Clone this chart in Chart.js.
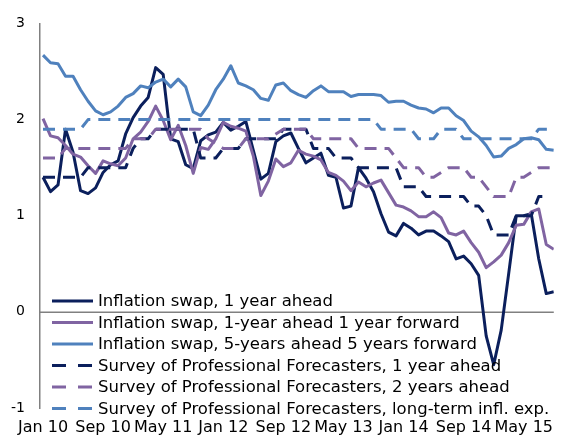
<!DOCTYPE html>
<html>
<head>
	<style type="text/css">
	html, body { margin: 0; padding: 0; background: #fff; }
	#wrap { width: 563px; height: 438px; }
	</style>
	<title>Inflation expectations</title>
	<script type="text/javascript" src="https://cdn.jsdelivr.net/npm/chart.js@4/dist/chart.umd.min.js"></script>
</head>
<body>
<div id="wrap"><canvas id="chart" width="563" height="438"></canvas></div>
<script type="text/javascript">
	// months Jan 2010 .. Sep 2015
	var categories = [
		'Jan 10','Feb 10','Mar 10','Apr 10','May 10','Jun 10','Jul 10','Aug 10','Sep 10','Oct 10','Nov 10','Dec 10',
		'Jan 11','Feb 11','Mar 11','Apr 11','May 11','Jun 11','Jul 11','Aug 11','Sep 11','Oct 11','Nov 11','Dec 11',
		'Jan 12','Feb 12','Mar 12','Apr 12','May 12','Jun 12','Jul 12','Aug 12','Sep 12','Oct 12','Nov 12','Dec 12',
		'Jan 13','Feb 13','Mar 13','Apr 13','May 13','Jun 13','Jul 13','Aug 13','Sep 13','Oct 13','Nov 13','Dec 13',
		'Jan 14','Feb 14','Mar 14','Apr 14','May 14','Jun 14','Jul 14','Aug 14','Sep 14','Oct 14','Nov 14','Dec 14',
		'Jan 15','Feb 15','Mar 15','Apr 15','May 15','Jun 15','Jul 15','Aug 15','Sep 15'
	];
	var tickEvery = 8;

	var seriesNames = [
		'Inflation swap, 1 year ahead',
		'Inflation swap, 1-year ahead 1 year forward',
		'Inflation swap, 5-years ahead 5 years forward',
		'Survey of Professional Forecasters, 1 year ahead',
		'Survey of Professional Forecasters, 2 years ahead',
		'Survey of Professional Forecasters, long-term infl. exp.'
	];

	var swap1y = [
		1.40, 1.25, 1.32, 1.90, 1.66, 1.26, 1.23, 1.29, 1.45, 1.53, 1.57, 1.85,
		2.02, 2.14, 2.23, 2.54, 2.47, 1.80, 1.77, 1.53, 1.49, 1.78, 1.84, 1.87,
		1.97, 1.89, 1.93, 1.98, 1.68, 1.38, 1.44, 1.77, 1.83, 1.86, 1.70, 1.55,
		1.60, 1.65, 1.42, 1.40, 1.08, 1.10, 1.50, 1.39, 1.25, 1.02, 0.83, 0.79,
		0.92, 0.87, 0.80, 0.84, 0.84, 0.79, 0.73, 0.55, 0.58, 0.50, 0.38, -0.25,
		-0.55, -0.19, 0.40, 1.00, 1.00, 1.02, 0.55, 0.19, 0.21
	];
	var swap1y1y = [
		2.01, 1.83, 1.81, 1.73, 1.64, 1.61, 1.52, 1.44, 1.57, 1.54, 1.52, 1.60,
		1.80, 1.87, 1.98, 2.14, 1.99, 1.79, 1.94, 1.73, 1.44, 1.71, 1.69, 1.80,
		1.97, 1.93, 1.91, 1.88, 1.62, 1.21, 1.36, 1.59, 1.51, 1.55, 1.68, 1.64,
		1.62, 1.58, 1.45, 1.42, 1.36, 1.26, 1.35, 1.30, 1.34, 1.37, 1.24, 1.11,
		1.09, 1.05, 0.99, 0.99, 1.04, 0.98, 0.82, 0.80, 0.84, 0.72, 0.62, 0.46,
		0.52, 0.59, 0.72, 0.90, 0.91, 1.04, 1.07, 0.70, 0.65
	];
	var swap5y5y = [
		2.67, 2.59, 2.58, 2.45, 2.45, 2.31, 2.19, 2.09, 2.05, 2.08, 2.14, 2.23,
		2.27, 2.35, 2.33, 2.39, 2.42, 2.34, 2.42, 2.34, 2.08, 2.04, 2.15, 2.31,
		2.42, 2.56, 2.38, 2.35, 2.31, 2.22, 2.20, 2.36, 2.38, 2.30, 2.26, 2.23,
		2.30, 2.35, 2.29, 2.29, 2.29, 2.24, 2.26, 2.26, 2.26, 2.25, 2.18, 2.19,
		2.19, 2.15, 2.12, 2.11, 2.07, 2.12, 2.12, 2.04, 1.99, 1.88, 1.82, 1.73,
		1.61, 1.62, 1.70, 1.74, 1.80, 1.81, 1.79, 1.69, 1.68
	];
	var spf1y = [
		1.4, 1.4, 1.4, 1.4, 1.4, 1.4, 1.5, 1.5, 1.5, 1.5, 1.5, 1.5,
		1.7, 1.8, 1.8, 1.9, 1.9, 1.9, 1.9, 1.9, 1.9, 1.6, 1.6, 1.6,
		1.7, 1.7, 1.7, 1.8, 1.8, 1.8, 1.8, 1.8, 1.9, 1.9, 1.9, 1.9,
		1.7, 1.7, 1.7, 1.6, 1.6, 1.6, 1.5, 1.5, 1.5, 1.5, 1.5, 1.5,
		1.3, 1.3, 1.3, 1.2, 1.2, 1.2, 1.2, 1.2, 1.2, 1.1, 1.1, 1.0,
		0.8, 0.8, 0.8, 1.0, 1.0, 1.0, 1.2, 1.2, null
	];
	var spf2y = [
		1.6, 1.6, 1.6, 1.7, 1.7, 1.7, 1.7, 1.7, 1.7, 1.7, 1.7, 1.7,
		1.8, 1.8, 1.8, 1.9, 1.9, 1.9, 1.9, 1.9, 1.9, 1.9, 1.8, 1.75,
		1.7, 1.7, 1.7, 1.8, 1.8, 1.8, 1.8, 1.85, 1.9, 1.9, 1.9, 1.9,
		1.8, 1.8, 1.8, 1.8, 1.8, 1.8, 1.7, 1.7, 1.7, 1.7, 1.7, 1.6,
		1.5, 1.5, 1.5, 1.4, 1.4, 1.45, 1.5, 1.5, 1.5, 1.4, 1.4, 1.3,
		1.2, 1.2, 1.2, 1.4, 1.4, 1.45, 1.5, 1.5, 1.5
	];
	var spfLongTerm = [
		1.9, 1.9, 1.9, 1.9, 1.9, 1.9, 2.0, 2.0, 2.0, 2.0, 2.0, 2.0,
		2.0, 2.0, 2.0, 2.0, 2.0, 2.0, 2.0, 2.0, 2.0, 2.0, 2.0, 2.0,
		2.0, 2.0, 2.0, 2.0, 2.0, 2.0, 2.0, 2.0, 2.0, 2.0, 2.0, 2.0,
		2.0, 2.0, 2.0, 2.0, 2.0, 2.0, 2.0, 2.0, 2.0, 1.9, 1.9, 1.9,
		1.9, 1.9, 1.8, 1.8, 1.8, 1.9, 1.9, 1.9, 1.8, 1.8, 1.8, 1.8,
		1.8, 1.8, 1.8, 1.8, 1.8, 1.8, 1.9, 1.9, 1.9
	];

	var yTicks = [-1, 0, 1, 2, 3];

	var navy = '#0b1f5c';
	var purple = '#8064a2';
	var blue = '#4f81bd';
	var axisGrey = '#808080';
	var dash = [12, 8];
	var font = '"DejaVu Sans", Verdana, sans-serif';

	function line(label, data, color, dashed, idx) {
		return {
			label: label,
			data: data,
			borderColor: color,
			backgroundColor: color,
			borderWidth: 3,
			borderDash: dashed ? dash : [],
			borderCapStyle: 'butt',
			borderJoinStyle: 'round',
			pointRadius: 0,
			tension: 0,
			fill: false,
			order: 5 - idx
		};
	}

	// zero line under the data, legend inside the plot over it (bottom left)
	var insideLegend = {
		id: 'insideLegend',
		beforeDatasetsDraw: function (chart) {
			var ctx = chart.ctx;
			var a = chart.chartArea;
			var y0 = chart.scales.y.getPixelForValue(0);
			ctx.save();
			ctx.fillStyle = axisGrey;
			ctx.fillRect(a.left, Math.round(y0) - 0.5, a.right - a.left, 1.5);
			ctx.restore();
		},
		afterDatasetsDraw: function (chart) {
			var ctx = chart.ctx;
			var x0 = chart.chartArea.left + 12;
			ctx.save();
			ctx.font = '16.5px ' + font;
			ctx.textBaseline = 'middle';
			ctx.textAlign = 'left';
			chart.data.datasets.forEach(function (ds, i) {
				var y = 301 + i * 21.5;
				ctx.strokeStyle = ds.borderColor;
				ctx.lineWidth = ds.borderWidth;
				ctx.lineCap = 'butt';
				ctx.setLineDash(ds.borderDash.length ? [14, 12] : []);
				ctx.beginPath();
				ctx.moveTo(x0, y);
				ctx.lineTo(x0 + 41, y);
				ctx.stroke();
				ctx.setLineDash([]);
				ctx.fillStyle = '#000';
				ctx.fillText(ds.label, x0 + 46, y + 1);
			});
			ctx.restore();
		}
	};

	var tickIdx = categories.map(function (c, i) { return i; }).filter(function (i) { return i % tickEvery === 0; });

	var chart = new Chart(document.getElementById('chart').getContext('2d'), {
		type: 'line',
		data: {
			labels: categories.map(function (c, i) { return i; }),
			datasets: [
				line(seriesNames[0], swap1y, navy, false, 0),
				line(seriesNames[1], swap1y1y, purple, false, 1),
				line(seriesNames[2], swap5y5y, blue, false, 2),
				line(seriesNames[3], spf1y, navy, true, 3),
				line(seriesNames[4], spf2y, purple, true, 4),
				line(seriesNames[5], spfLongTerm, blue, true, 5)
			]
		},
		options: {
			responsive: false,
			animation: false,
			spanGaps: false,
			layout: { padding: { top: 20, right: 0, bottom: 0, left: 0 } },
			plugins: {
				legend: { display: false },
				tooltip: { enabled: false }
			},
			scales: {
				x: {
					type: 'linear',
					min: -0.4,
					max: 68,
					grid: { display: false, drawTicks: false },
					border: { display: false },
					afterBuildTicks: function (scale) {
						scale.ticks = tickIdx.map(function (v) { return { value: v }; });
					},
					afterFit: function (scale) { scale.height = 30; },
					ticks: {
						autoSkip: false,
						maxRotation: 0,
						padding: 10,
						color: '#000',
						font: { family: font, size: 16 },
						callback: function (v) { return categories[v]; }
					}
				},
				y: {
					min: yTicks[0],
					max: yTicks[yTicks.length - 1],
					afterBuildTicks: function (scale) {
						scale.ticks = yTicks.map(function (v) { return { value: v }; });
					},
					afterFit: function (scale) { scale.width = 40; },
					grid: { display: false, drawTicks: false },
					border: { display: true, color: axisGrey, width: 1.5 },
					ticks: {
						padding: 15,
						color: '#000',
						font: { family: font, size: 14 }
					}
				}
			}
		},
		plugins: [insideLegend]
	});
</script>
</body>
</html>
